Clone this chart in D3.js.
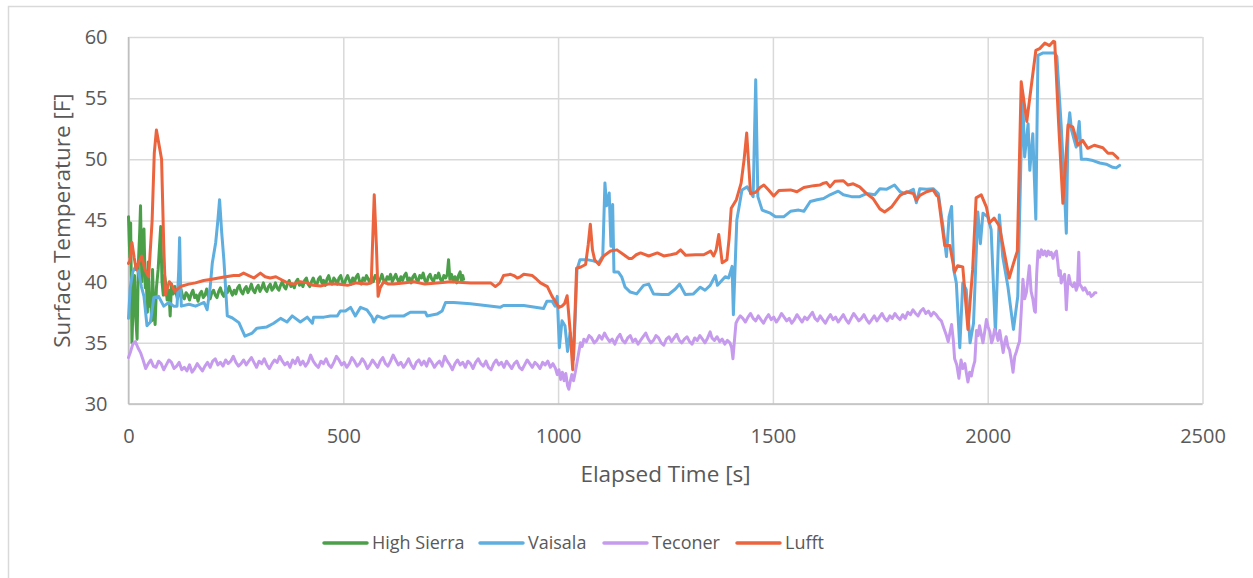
<!DOCTYPE html>
<html>
<head>
<meta charset="utf-8">
<script src="https://cdn.jsdelivr.net/npm/d3@7"></script>
<style>
  html, body { margin: 0; padding: 0; background: #fff; }
  svg { display: block; }
  text { font-family: "Open Sans", "Noto Sans", sans-serif; fill: #595959; }
</style>
</head>
<body>
<svg id="chart" width="1253" height="578"></svg>
<script>
// ---- data (elapsed time [s], surface temperature [F]) ----
const seriesNames = ["High Sierra", "Vaisala", "Teconer", "Lufft"];
const xTicks = [0, 500, 1000, 1500, 2000, 2500];
const yTicks = [30, 35, 40, 45, 50, 55, 60];

const highSierra = [
[0,45.3],[3,42.0],[5,44.8],[8,35.0],[11,38.5],[14,40.5],[17,37.0],[20,35.3],[23,41.5],[26,44.0],[28,46.2],[31,40.0],[34,43.5],[36,44.3],[39,39.5],[41,40.5],[44,37.5],[46,41.6],[49,38.0],[51,38.9],[54,36.8],[56,41.0],[59,37.5],[62,36.5],[65,39.5],[69,41.0],[72,42.8],[75,44.5],[78,40.0],[81,38.9],[84,40.5],[86,40.0],[90,38.5],[94,39.3],[97,37.2],[100,39.8],[104,39.0],[108,39.6],
[110,39.2],[114,38.6],[118,39.0],[122,39.4],[126,38.8],[130,38.6],[134,39.1],[138,38.9],[142,38.5],[146,39.0],[150,39.3],[154,38.7],[158,38.9],[162,38.4],[166,39.0],[170,39.2],[174,38.7],[178,38.9],[182,39.4],[186,38.8],[190,38.6],[194,39.1],[198,39.3],[202,38.9],[206,38.7],[210,39.2],[214,39.5],[218,39.0],[222,38.8],[226,39.3],[230,39.1],[234,39.6],[238,39.2],[242,38.9],[246,39.3],[250,39.0],[254,39.5],[258,39.7],[262,39.2],[266,39.0],[270,39.4],[274,39.6],[278,39.1],[282,39.4],[286,39.8],[290,39.3],[294,39.1],[298,39.5],[302,39.7],[306,39.2],[310,39.5],[314,39.9],[318,39.4],[322,39.2],[326,39.6],[330,39.8],[334,39.3],[338,39.5],[342,39.9],[346,39.5],[350,39.3],[354,39.7],[358,40.0],[362,39.6],[366,39.4],[370,39.8],[374,40.1],[378,39.6],[382,39.8],[386,39.5],[390,40.0],[394,40.2],[398,39.7],[402,39.9],[406,39.6],[410,40.1],[414,40.3],[418,39.8],[422,39.6],[426,40.0],[430,40.3],[434,39.9],[438,39.7],[442,40.2],[446,40.4],[450,39.9],[454,40.1],[458,39.7],[462,40.2],[466,40.5],[470,40.0],[474,39.8],[478,40.3],[482,40.1],[486,39.8],[490,40.3],[494,40.5],[498,40.0],[502,39.8],[506,40.2],[510,40.5],[514,40.1],[518,39.8],[522,40.3],[526,40.0],[530,40.4],[534,40.6],[538,40.0],[542,39.8],[546,40.3],[550,40.1],[554,40.5],[558,40.2],[562,39.9],[566,40.4],[570,40.0],[574,40.5],[578,40.3],[582,39.9],[586,40.2],[590,40.6],[594,40.1],[598,39.9],[602,40.4],[606,40.2],[610,40.6],[614,40.0],[618,40.3],[622,40.6],[626,40.2],[630,39.9],[634,40.4],[638,40.1],[642,40.5],[646,40.7],[650,40.1],[654,40.3],[658,39.9],[662,40.4],[666,40.6],[670,40.2],[674,40.0],[678,40.5],[682,40.3],[686,40.7],[690,40.1],[694,39.9],[698,40.4],[702,40.6],[706,40.2],[710,40.0],[714,40.5],[718,40.3],[722,40.7],[726,40.2],[730,40.0],[734,40.5],[738,40.3],[742,40.6],[745,41.8],[748,40.2],[752,40.6],[756,40.0],[760,40.4],[764,39.9],[768,40.5],[772,40.8],[775,40.0],[778,40.5],[780,40.2]
];

const vaisala = [
[0,37.0],[4,39.5],[10,40.8],[16,41.2],[24,40.7],[30,39.6],[36,38.8],[43,36.4],[51,36.7],[59,38.7],[70,38.8],[82,38.0],[94,38.3],[105,38.0],[113,38.0],[117,41.0],[119,43.6],[121,40.0],[123,38.0],[141,38.15],[156,38.0],[176,38.3],[183,37.7],[190,39.5],[195,41.5],[203,43.2],[208,45.0],[212,46.7],[217,44.0],[222,41.8],[230,37.2],[241,37.05],[257,36.65],[271,35.55],[288,35.8],[299,36.2],[322,36.3],[338,36.6],[354,37.0],[369,36.7],[381,37.2],[400,36.7],[416,37.1],[428,36.6],[431,37.1],[455,37.1],[470,37.2],[486,37.2],[493,37.6],[505,37.6],[517,37.9],[528,37.2],[540,37.9],[555,37.7],[567,37.1],[571,36.7],[579,37.2],[594,37.0],[610,37.2],[641,37.2],[656,37.5],[691,37.5],[695,37.2],[718,37.35],[730,37.6],[738,38.3],[757,38.3],[796,38.2],[865,37.9],[873,38.05],[920,38.05],[966,37.8],[974,38.4],[986,38.4],[993,38.0],[998,38.8],[1003,34.6],[1009,36.8],[1016,36.4],[1022,34.3],[1028,35.85],[1036,33.65],[1044,41.0],[1051,41.8],[1067,41.8],[1082,41.7],[1094,41.55],[1104,42.1],[1109,48.07],[1113,46.2],[1119,47.25],[1123,42.9],[1127,46.3],[1130,40.8],[1140,40.8],[1148,40.4],[1156,39.55],[1168,39.15],[1183,39.0],[1199,39.7],[1211,39.8],[1222,39.0],[1242,38.95],[1257,38.95],[1273,39.4],[1283,39.8],[1296,38.95],[1315,39.0],[1331,39.55],[1342,39.3],[1354,39.7],[1366,40.5],[1371,39.7],[1389,40.4],[1397,40.3],[1405,41.25],[1408,37.3],[1416,45.05],[1428,47.5],[1440,47.75],[1454,46.95],[1460,56.5],[1465,46.95],[1475,45.85],[1494,45.6],[1506,45.3],[1525,45.3],[1541,45.75],[1560,45.85],[1572,45.75],[1587,46.55],[1603,46.7],[1618,46.8],[1633,47.1],[1652,47.4],[1664,47.1],[1683,46.95],[1702,46.95],[1718,47.2],[1737,47.1],[1749,47.6],[1764,47.55],[1783,47.9],[1796,47.35],[1807,47.2],[1827,47.55],[1834,46.45],[1842,47.6],[1858,47.55],[1873,47.6],[1885,47.2],[1896,44.5],[1904,42.05],[1910,45.3],[1916,46.15],[1921,40.95],[1927,39.9],[1935,34.6],[1942,39.9],[1950,39.35],[1959,35.0],[1967,36.6],[1977,45.7],[1983,43.1],[1989,45.6],[2000,45.3],[2008,44.25],[2018,35.8],[2027,45.45],[2035,42.05],[2047,39.6],[2060,36.1],[2070,38.8],[2081,55.55],[2086,50.2],[2094,52.9],[2098,49.1],[2105,52.1],[2112,45.1],[2117,58.5],[2129,58.7],[2156,58.7],[2161,58.4],[2171,52.8],[2178,48.0],[2183,43.95],[2187,52.4],[2191,53.8],[2195,52.4],[2206,51.0],[2213,53.1],[2218,50.0],[2230,50.0],[2245,49.9],[2261,49.7],[2276,49.6],[2291,49.35],[2299,49.3],[2307,49.5]
];

const teconer = [
[0,33.8],[5,34.3],[10,34.9],[16,35.1],[22,34.6],[28,34.2],[34,33.6],
[40,32.9],[46,33.3],[52,33.6],[58,33.1],[64,33.0],[70,33.5],[76,33.3],[82,32.8],[88,33.2],[94,33.6],[100,33.4],[106,32.9],[112,33.1],[118,33.4],[124,32.8],[130,33.0],[136,32.7],[142,33.2],[148,32.6],[154,32.9],[160,33.3],[166,33.0],[172,32.7],[178,33.1],[184,33.4],[190,33.0],[196,33.5],[202,33.7],[208,33.2],[214,33.4],[220,33.1],[226,33.6],[232,33.3],[238,33.5],[244,33.9],[250,33.4],[256,33.1],[262,33.3],[268,33.6],[274,33.2],[280,33.5],[286,33.8],[292,33.4],[298,33.0],[304,33.5],[310,33.3],[316,33.7],[322,33.2],[328,32.9],[334,33.3],[340,33.6],[346,33.4],[352,33.9],[358,33.5],[364,33.2],[370,33.4],[376,33.0],[382,33.6],[388,33.3],[394,33.8],[400,33.2],[406,33.5],[412,33.1],[418,33.4],[424,34.0],[430,33.5],[436,33.2],[442,33.0],[448,33.5],[454,33.3],[460,33.7],[466,33.2],[472,33.0],[478,33.4],[484,33.9],[490,33.6],[496,33.2],[502,33.4],[508,33.0],[514,33.3],[520,33.8],[526,33.5],[532,33.1],[538,33.3],[544,33.7],[550,33.4],[556,32.9],[562,33.2],[568,33.6],[574,33.3],[580,33.0],[586,33.5],[592,33.8],[598,33.3],[604,33.1],[610,33.5],[616,34.0],[622,33.6],[628,33.2],[634,33.4],[640,33.0],[646,33.3],[652,33.7],[658,33.2],[664,32.9],[670,33.4],[676,33.6],[682,33.2],[688,33.5],[694,33.1],[700,33.7],[706,33.4],[712,33.0],[718,33.3],[724,33.5],[730,33.1],[736,33.9],[742,33.5],[748,33.2],[754,32.8],[760,33.3],[766,33.6],[772,33.2],[778,33.4],[784,33.0],[790,33.5],[796,33.3],[802,32.9],[808,33.4],[814,33.7],[820,33.3],[826,33.1],[832,33.5],[838,33.0],[844,32.8],[850,33.3],[856,33.6],[862,33.2],[868,33.4],[874,33.0],[880,33.5],[886,33.2],[892,32.9],[898,33.3],[904,33.5],[910,33.0],[916,32.8],[922,33.2],[928,33.6],[934,33.3],[940,33.0],[946,33.4],[952,33.2],[958,32.9],[964,33.4],[970,33.2],[976,33.5],[982,33.0],[988,33.3],[994,32.9],
[998,32.4],[1002,32.8],[1006,32.0],[1010,32.6],[1014,31.9],[1018,32.5],[1022,31.5],[1025,31.2],[1028,31.8],[1032,32.4],[1036,31.9],[1040,32.6],[1044,33.4],[1048,34.2],[1052,35.0],[1056,34.7],
[1060,35.3],[1066,35.1],[1072,35.6],[1078,35.4],[1084,35.0],[1090,35.2],[1096,35.6],[1102,35.3],[1108,35.8],[1114,35.4],[1120,35.1],[1126,35.3],[1132,34.9],[1138,35.4],[1144,35.7],[1150,35.2],[1156,35.0],[1162,35.4],[1168,35.6],[1174,35.1],[1180,35.3],[1186,34.9],[1192,35.2],[1198,35.5],[1204,35.8],[1210,35.3],[1216,35.0],[1222,35.2],[1228,35.6],[1234,35.4],[1240,35.0],[1246,34.8],[1252,35.3],[1258,35.5],[1264,35.1],[1270,35.4],[1276,35.7],[1282,35.2],[1288,35.0],[1294,35.3],[1300,35.5],[1306,35.1],[1312,34.9],[1318,35.4],[1324,35.2],[1330,35.6],[1336,35.3],[1342,35.0],[1348,35.4],[1354,35.9],[1358,35.4],[1364,35.2],[1370,35.5],[1376,35.1],[1382,35.3],[1388,34.9],[1394,35.2],[1400,35.0],
[1404,34.6],[1407,33.7],[1410,35.0],[1414,36.6],
[1418,36.9],[1424,37.2],[1430,37.0],[1436,36.7],[1442,37.1],[1448,37.4],[1454,37.0],[1460,36.8],[1466,37.2],[1472,36.9],[1478,36.6],[1484,37.0],[1490,37.3],[1496,36.9],[1502,37.1],[1508,36.7],[1514,37.0],[1520,37.4],[1526,37.1],[1532,36.8],[1538,37.0],[1544,36.6],[1550,36.9],[1556,37.3],[1562,37.0],[1568,36.7],[1574,37.1],[1580,36.9],[1586,37.2],[1592,37.5],[1598,37.0],[1604,36.8],[1610,37.2],[1616,36.9],[1622,36.6],[1628,37.0],[1634,37.3],[1640,36.9],[1646,37.1],[1652,36.7],[1658,37.0],[1664,37.3],[1670,36.9],[1676,36.6],[1682,37.0],[1688,37.4],[1694,37.1],[1700,36.8],[1706,37.0],[1712,37.3],[1718,36.9],[1724,36.6],[1730,36.9],[1736,37.2],[1742,36.8],[1748,37.1],[1754,37.4],[1760,37.0],[1766,36.8],[1772,37.2],[1778,37.0],[1784,37.4],[1790,37.1],[1796,36.9],[1802,37.3],[1808,37.0],[1814,37.5],[1820,37.3],[1826,37.7],[1832,37.4],[1838,37.2],[1844,37.6],[1850,37.8],[1856,37.4],[1862,37.6],[1868,37.2],[1874,37.5],[1880,37.3],[1886,37.0],
[1892,36.8],[1898,36.2],[1904,35.6],[1908,35.1],[1912,35.8],[1916,36.5],[1920,35.2],[1923,33.7],[1928,33.2],[1933,32.1],[1938,33.6],[1942,32.9],[1947,33.3],[1951,32.4],[1954,31.8],[1958,32.6],[1962,32.3],[1966,33.0],[1970,33.5],[1974,36.0],[1978,35.6],[1981,36.4],[1985,35.7],[1989,35.0],[1993,35.9],[1997,36.9],[2001,36.3],[2005,35.9],[2009,35.0],[2012,35.3],[2016,36.1],[2020,35.8],[2024,35.2],[2028,36.0],[2032,35.1],[2036,34.2],[2040,35.1],[2043,35.5],[2047,34.7],[2051,34.4],[2055,33.6],[2059,32.6],[2063,33.9],[2067,34.3],[2071,34.8],[2074,35.1],[2078,37.5],[2082,40.2],[2086,38.6],[2090,39.1],[2094,40.3],[2097,41.3],[2101,39.2],[2105,38.6],[2109,37.6],[2111,37.5],[2114,40.6],[2117,42.5],[2121,42.0],[2125,42.6],[2129,42.2],[2133,42.5],[2137,42.1],[2141,42.5],[2145,42.2],[2148,42.4],[2152,41.9],[2156,42.3],[2160,42.5],[2163,41.6],[2166,40.5],[2169,40.9],[2171,39.9],[2175,40.3],[2179,40.6],[2181,39.4],[2183,37.7],[2186,39.6],[2189,40.5],[2193,39.8],[2198,39.6],[2202,39.9],[2206,39.3],[2209,39.6],[2212,42.4],[2214,39.8],[2218,39.6],[2222,39.3],[2226,39.5],[2229,39.3],[2233,39.0],[2237,39.1],[2241,38.8],[2245,38.9],[2249,39.1],[2252,39.1]
];

const lufft = [
[0,41.5],[3,41.7],[8,43.2],[13,42.0],[18,41.0],[24,41.6],[31,42.1],[38,41.0],[47,40.4],[55,45.0],[60,50.5],[65,52.4],[72,51.0],[77,50.0],[82,43.0],[86,38.9],[95,40.0],[101,39.7],[108,39.2],[121,39.6],[140,39.8],[156,39.9],[175,40.1],[194,40.2],[210,40.3],[226,40.4],[245,40.5],[257,40.5],[268,40.7],[280,40.5],[292,40.3],[307,40.7],[318,40.4],[330,40.3],[343,40.4],[354,40.2],[370,39.9],[385,39.8],[400,40.0],[416,39.9],[430,39.7],[447,39.65],[465,39.8],[486,39.8],[510,39.7],[530,39.9],[555,39.8],[565,39.9],[572,47.1],[577,43.0],[581,38.8],[586,39.5],[594,40.0],[605,39.8],[617,39.8],[640,39.9],[664,40.0],[690,39.8],[718,39.9],[750,40.0],[796,39.9],[819,39.9],[843,39.9],[854,39.6],[865,39.9],[873,40.5],[889,40.6],[897,40.5],[905,40.3],[912,40.4],[920,40.6],[940,40.5],[950,40.2],[959,39.9],[975,39.6],[986,38.8],[995,38.3],[1002,37.9],[1009,38.0],[1015,38.2],[1021,38.85],[1028,36.0],[1034,32.8],[1039,37.0],[1043,41.1],[1053,41.2],[1064,41.4],[1070,43.0],[1075,44.7],[1080,42.6],[1085,41.8],[1095,41.4],[1106,42.1],[1122,42.5],[1137,42.6],[1153,42.2],[1165,41.9],[1172,41.9],[1182,42.2],[1192,42.35],[1211,42.1],[1231,42.35],[1246,42.1],[1262,42.2],[1275,42.3],[1285,42.6],[1297,42.15],[1320,42.2],[1339,42.2],[1355,42.5],[1362,42.1],[1368,42.6],[1374,43.85],[1382,41.55],[1393,41.8],[1398,43.5],[1403,46.0],[1415,46.7],[1426,48.05],[1433,50.0],[1439,52.15],[1448,47.2],[1460,47.3],[1470,47.7],[1479,47.9],[1490,47.5],[1502,47.0],[1514,47.45],[1541,47.5],[1556,47.35],[1572,47.7],[1595,47.85],[1609,47.9],[1618,48.05],[1625,48.1],[1633,47.75],[1644,48.2],[1664,48.25],[1675,47.9],[1687,48.0],[1702,47.75],[1718,47.2],[1733,46.8],[1749,45.95],[1760,45.7],[1776,46.1],[1796,47.05],[1811,47.35],[1827,47.2],[1834,46.65],[1842,47.05],[1858,47.35],[1873,47.5],[1881,47.05],[1885,46.95],[1892,45.05],[1900,42.95],[1912,42.95],[1923,40.8],[1930,41.3],[1942,41.2],[1954,36.1],[1965,41.0],[1973,46.85],[1985,47.1],[1997,46.1],[2004,44.8],[2015,45.2],[2027,44.55],[2038,42.5],[2050,40.3],[2060,41.5],[2069,42.5],[2078,56.35],[2091,53.1],[2112,58.9],[2121,59.05],[2133,59.5],[2144,59.3],[2153,59.65],[2156,59.6],[2165,53.0],[2175,46.4],[2187,52.8],[2198,52.65],[2210,51.15],[2221,51.55],[2233,50.9],[2248,51.15],[2268,50.95],[2280,50.5],[2291,50.5],[2303,50.1]
];

const seriesData = [highSierra, vaisala, teconer, lufft];
const seriesColors = ["#4b9f49", "#5eaee0", "#c69bee", "#eb643d"];

// ---- layout ----
const svg = d3.select("#chart");
const W = 1253, H = 578;
const plot = { left: 128.5, right: 1202.5, top: 37, bottom: 404 };

svg.append("rect").attr("width", W).attr("height", H).attr("fill", "#fff");
svg.append("rect")
  .attr("x", 8.5).attr("y", 6.5).attr("width", 1300).attr("height", 700)
  .attr("fill", "none").attr("stroke", "#d9d9d9").attr("stroke-width", 1.5);

const x = d3.scaleLinear().domain([0, 2500]).range([plot.left, plot.right]);
const y = d3.scaleLinear().domain([30, 60]).range([plot.bottom, plot.top]);

// gridlines
const gy = svg.append("g").attr("transform", `translate(${plot.left},0)`)
  .call(d3.axisLeft(y).tickValues(yTicks).tickSize(-(plot.right - plot.left)).tickFormat(""));
gy.select(".domain").remove();
gy.selectAll("line").attr("stroke", "#d9d9d9").attr("stroke-width", 1.5);

const gx = svg.append("g").attr("transform", `translate(0,${plot.bottom})`)
  .call(d3.axisBottom(x).tickValues(xTicks).tickSize(-(plot.bottom - plot.top)).tickFormat(""));
gx.select(".domain").remove();
gx.selectAll("line").attr("stroke", "#d9d9d9").attr("stroke-width", 1.5);

// axis lines (left & bottom)
svg.append("line").attr("x1", plot.left).attr("x2", plot.left).attr("y1", plot.top).attr("y2", plot.bottom)
  .attr("stroke", "#bfbfbf").attr("stroke-width", 1.5);
svg.append("line").attr("x1", plot.left).attr("x2", plot.right).attr("y1", plot.bottom).attr("y2", plot.bottom)
  .attr("stroke", "#bfbfbf").attr("stroke-width", 1.5);

// tick labels
const ly = svg.append("g").attr("transform", `translate(${plot.left},0)`)
  .call(d3.axisLeft(y).tickValues(yTicks).tickSize(0).tickPadding(21).tickFormat(d3.format("d")));
ly.select(".domain").remove();
ly.selectAll("text").attr("font-size", 20).attr("fill", "#595959")
  .style("font-family", '"Open Sans", sans-serif');

const lx = svg.append("g").attr("transform", `translate(0,${plot.bottom})`)
  .call(d3.axisBottom(x).tickValues(xTicks).tickSize(0).tickPadding(25).tickFormat(d3.format("d")));
lx.select(".domain").remove();
lx.selectAll("text").attr("font-size", 20).attr("fill", "#595959")
  .style("font-family", '"Open Sans", sans-serif');

// axis titles
svg.append("text").attr("x", (plot.left + plot.right) / 2).attr("y", 482)
  .attr("text-anchor", "middle").attr("font-size", 22.5).text("Elapsed Time [s]");
svg.append("text").attr("transform", `translate(70,${(plot.top + plot.bottom) / 2}) rotate(-90)`)
  .attr("text-anchor", "middle").attr("font-size", 22.5).text("Surface Temperature [F]");

// series
const line = d3.line().x(d => x(d[0])).y(d => y(d[1]));
const gs = svg.append("g");
seriesData.forEach((data, i) => {
  gs.append("path").datum(data)
    .attr("d", line)
    .attr("fill", "none")
    .attr("stroke", seriesColors[i])
    .attr("stroke-width", 3)
    .attr("stroke-linejoin", "round")
    .attr("stroke-linecap", "round");
});

// legend
const legendX = [324, 480, 604, 737];
const legY = 543;
const lg = svg.append("g");
seriesNames.forEach((name, i) => {
  const gi = lg.append("g").attr("transform", `translate(${legendX[i]},${legY})`);
  gi.append("line").attr("x1", 0).attr("x2", 43).attr("y1", 0).attr("y2", 0)
    .attr("stroke", seriesColors[i]).attr("stroke-width", 3.5).attr("stroke-linecap", "round");
  gi.append("text").attr("x", 48).attr("y", 0).attr("dy", "0.35em")
    .attr("font-size", 18).text(name);
});
</script>
</body>
</html>
